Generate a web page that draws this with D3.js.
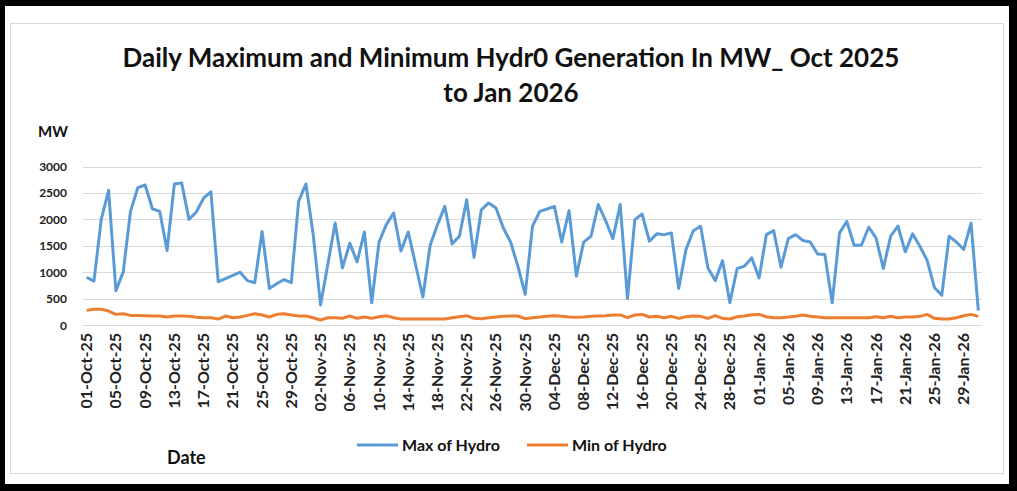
<!DOCTYPE html>
<html lang="en">
<head>
  <meta charset="UTF-8">
  <title>Daily Maximum and Minimum Hydro Generation</title>
  <style>
    body {
      margin: 0;
      background: #fff;
      font-family: Lato, "Open Sans", Arial, sans-serif;
      overflow: hidden;
    }
    svg { display: block; }
    .grid line { stroke: #d9d9d9; stroke-width: 1px; }
    .ytick { font-size: 12px; font-weight: bold; fill: #222; }
    .xtick { font-size: 16px; font-weight: bold; fill: #222; }
    .title { font-size: 26px; font-weight: bold; fill: #111; }
    .label { font-weight: bold; fill: #111; }
  </style>
</head>
<body>
  <svg width="1017" height="491"></svg>

  <script src="https://d3js.org/d3.v7.min.js"></script>
  <script>
    // Data (MW), one value per day, 01-Oct-25 .. 31-Jan-26
    const startDate = new Date(2025, 9, 1);
    const endDate = new Date(2026, 1, 1); // exclusive
    const dates = d3.timeDay.range(startDate, endDate);

    const maxHydro = [
      900, 830, 2000, 2550, 650, 1000, 2150, 2600, 2650, 2200,
      2150, 1410, 2670, 2690, 2000, 2140, 2400, 2520, 820, 880,
      940, 1000, 840, 800, 1770, 690, 780, 860, 800, 2340,
      2670, 1710, 380, 1150, 1930, 1080, 1550, 1195, 1760, 420,
      1570, 1900, 2120, 1400, 1760, 1145, 530, 1510, 1900, 2245,
      1535, 1680, 2370, 1280, 2180, 2310, 2215, 1840, 1570, 1115,
      580, 1870, 2150, 2195, 2245, 1570, 2165, 925, 1570, 1680,
      2280, 1975, 1635, 2280, 500, 1995, 2100, 1585, 1725, 1710,
      1740, 690, 1430, 1785, 1870, 1080, 840, 1220, 420, 1070,
      1115, 1270, 890, 1710, 1785, 1095, 1635, 1710, 1600, 1570,
      1345, 1335, 420, 1740, 1960, 1510, 1510, 1850, 1650, 1070,
      1680, 1870, 1385, 1725, 1490, 1220, 705, 565, 1680, 1570,
      1430, 1930, 270
    ];

    const minHydro = [
      277, 296, 300, 264, 201, 214, 182, 182, 176, 170,
      170, 151, 170, 170, 164, 145, 138, 138, 113, 170,
      138, 151, 182, 214, 189, 151, 201, 214, 189, 170,
      170, 138, 94, 138, 138, 126, 170, 126, 151, 126,
      157, 176, 138, 113, 113, 113, 113, 113, 113, 113,
      138, 157, 176, 126, 120, 138, 151, 164, 170, 170,
      120, 138, 151, 164, 176, 164, 151, 145, 151, 164,
      170, 176, 189, 190, 138, 189, 201, 151, 164, 138,
      164, 126, 157, 170, 164, 126, 176, 126, 113, 157,
      170, 195, 201, 157, 138, 138, 151, 164, 189, 164,
      151, 138, 138, 138, 138, 138, 138, 138, 157, 138,
      164, 138, 151, 151, 164, 201, 126, 113, 113, 138,
      176, 201, 164
    ];

    const yTicks = [0, 500, 1000, 1500, 2000, 2500, 3000];
    const fmtDate = d3.timeFormat("%d-%b-%y");

    const W = 1017, H = 491;
    const plot = { left: 83, right: 982, top: 166.5, bottom: 325 };

    const svg = d3.select("svg");

    // black frame + white card
    svg.append("rect").attr("width", W).attr("height", H).attr("fill", "#000");
    svg.append("rect").attr("x", 5).attr("y", 6).attr("width", 1004).attr("height", 478).attr("fill", "#fff");
    svg.append("rect").attr("x", 10.5).attr("y", 23.5).attr("width", 993).attr("height", 450)
      .attr("fill", "none").attr("stroke", "#d9d9d9");

    const x = d3.scaleBand()
      .domain(dates.map((d, i) => i))
      .range([plot.left, plot.right])
      .padding(0);
    const cx = i => x(i) + x.bandwidth() / 2;

    const y = d3.scaleLinear().domain([0, 3000]).range([plot.bottom, plot.top]);

    // grid
    svg.append("g").attr("class", "grid")
      .selectAll("line").data(yTicks).join("line")
      .attr("x1", plot.left).attr("x2", plot.right)
      .attr("y1", d => Math.round(y(d)) + 0.5).attr("y2", d => Math.round(y(d)) + 0.5);

    // y tick labels
    svg.append("g").selectAll("text").data(yTicks).join("text")
      .attr("class", "ytick")
      .attr("x", 67).attr("y", d => y(d) + 4.5)
      .attr("text-anchor", "end")
      .text(d => d);

    // x tick labels every 4 days
    const xTickIdx = dates.map((d, i) => i).filter(i => i % 4 === 0 && i <= 120);
    svg.append("g").selectAll("text").data(xTickIdx).join("text")
      .attr("class", "xtick")
      .attr("text-anchor", "end")
      .attr("transform", i => `translate(${cx(i) + 5.5},333) rotate(-90)`)
      .text(i => fmtDate(dates[i]));

    // lines
    const line = d3.line().x((d, i) => cx(i)).y(d => y(d));
    svg.append("path").datum(maxHydro)
      .attr("fill", "none").attr("stroke", "#5b9bd5").attr("stroke-width", 3)
      .attr("stroke-linejoin", "round").attr("d", line);
    svg.append("path").datum(minHydro)
      .attr("fill", "none").attr("stroke", "#ed7d31").attr("stroke-width", 3)
      .attr("stroke-linejoin", "round").attr("d", line);

    // titles
    svg.append("text").attr("class", "title").attr("x", 511).attr("y", 67)
      .attr("text-anchor", "middle").text("Daily Maximum and Minimum Hydr0 Generation In MW_ Oct 2025");
    svg.append("text").attr("class", "title").attr("x", 511).attr("y", 102)
      .attr("text-anchor", "middle").text("to Jan 2026");

    svg.append("text").attr("class", "label").attr("x", 38).attr("y", 137)
      .style("font-size", "15px").text("MW");
    svg.append("text").attr("class", "label").attr("x", 167).attr("y", 464)
      .style("font-size", "18px").text("Date");

    // legend
    const legend = [
      { name: "Max of Hydro", color: "#5b9bd5", x: 357 },
      { name: "Min of Hydro", color: "#ed7d31", x: 527 }
    ];
    const lg = svg.append("g").selectAll("g").data(legend).join("g")
      .attr("transform", d => `translate(${d.x},445)`);
    lg.append("line").attr("x1", 0).attr("x2", 41).attr("y1", 0).attr("y2", 0)
      .attr("stroke", d => d.color).attr("stroke-width", 3);
    lg.append("text").attr("class", "label").attr("x", 45).attr("y", 5.5)
      .style("font-size", "16px").text(d => d.name);
  </script>
</body>
</html>
